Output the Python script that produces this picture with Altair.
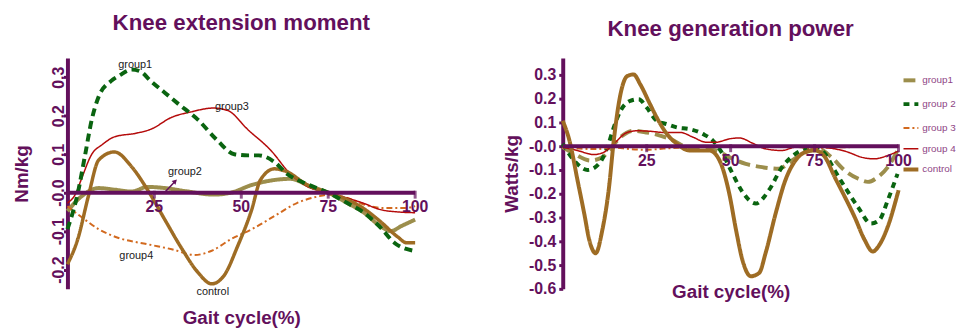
import altair as alt
import pandas as pd

PURPLE = "#63105c"
LEGEND_TXT = "#8e4585"
FONT = "Liberation Sans"

OLIVE = "#9c8e4c"
GREEN = "#0a6410"
ORANGE = "#d2691e"
RED = "#b40a0a"
BROWN = "#9e6c24"

# ---------------- Left panel: Knee extension moment ----------------
L_g1_x = [0, 3, 5, 7, 9, 12.5, 15, 18.5, 21, 24, 28, 32, 37.5, 43, 48, 52, 55, 59.5, 63, 69, 75, 80.5, 85, 90, 94, 100]
L_g1_y = [-0.095, 0.0, 0.094, 0.19, 0.25, 0.29, 0.305, 0.32, 0.315, 0.29, 0.26, 0.23, 0.19, 0.137, 0.10, 0.097, 0.097, 0.08, 0.05, 0.022, 0.0, -0.027, -0.05, -0.09, -0.13, -0.152]

L_g2_x = [0, 4, 9, 13.5, 18.5, 23, 28, 34, 42, 47, 53, 59.5, 64, 70, 75, 80.5, 85, 90, 93, 96, 100]
L_g2_y = [-0.048, -0.01, 0.012, 0.008, 0.003, 0.015, 0.012, 0.004, -0.005, 0.0, 0.02, 0.033, 0.036, 0.016, 0.0, -0.027, -0.05, -0.087, -0.1, -0.087, -0.07]

L_g3_x = [0, 2.5, 4, 7, 10, 13.5, 20, 24, 30, 35.5, 42, 46, 52, 58.5, 64, 69, 75, 80.5, 85, 90, 95, 100]
L_g3_y = [-0.027, 0.0, 0.035, 0.1, 0.125, 0.145, 0.155, 0.165, 0.196, 0.21, 0.22, 0.214, 0.163, 0.11, 0.05, 0.016, 0.0, -0.014, -0.027, -0.044, -0.05, -0.052]

L_g4_x = [0, 5, 9, 14.5, 23, 30, 36.5, 41.5, 47, 53, 59.5, 66, 72, 75.5, 80.5, 85, 91, 97, 100]
L_g4_y = [-0.035, -0.07, -0.095, -0.117, -0.134, -0.147, -0.162, -0.151, -0.121, -0.095, -0.061, -0.027, -0.01, -0.005, -0.014, -0.03, -0.04, -0.04, -0.035]

L_ctl_x = [0, 3, 6, 9, 13.5, 18.5, 23, 28, 33, 37.5, 41.5, 45, 49, 53, 55.5, 59.5, 63, 69, 75, 80.5, 85, 90, 95, 97.5, 100]
L_ctl_y = [-0.186, -0.12, -0.01, 0.085, 0.106, 0.067, 0.008, -0.07, -0.147, -0.207, -0.237, -0.216, -0.138, -0.044, 0.033, 0.062, 0.055, 0.02, 0.0, -0.018, -0.04, -0.075, -0.115, -0.13, -0.13]

L_names = ["group2", "group4", "group3", "control", "group1"]
L_colors = [OLIVE, ORANGE, RED, BROWN, GREEN]
L_dash = [[1, 0], [6, 3, 2, 3], [1, 0], [1, 0], [8, 5]]
L_width = [4, 2, 1.5, 3.5, 4]
L_data = {"group1": (L_g1_x, L_g1_y), "group2": (L_g2_x, L_g2_y), "group3": (L_g3_x, L_g3_y),
          "group4": (L_g4_x, L_g4_y), "control": (L_ctl_x, L_ctl_y)}

L_lab_text = ["group1", "group3", "group2", "group4", "control"]
L_lab_x = [19.5, 47.3, 33.8, 19.8, 41.8]
L_lab_y = [0.333, 0.222, 0.054, -0.165, -0.259]
L_arrow = {"x": [28.2], "y": [0.003], "x2": [31.0], "y2": [0.03]}

# ---------------- Right panel: Knee generation power ----------------
R_g1_x = [0, 3.4, 8.3, 11.8, 14.2, 17.2, 21.1, 25, 29, 33, 36.8, 41.7, 45.7, 49.6, 54.5, 59.4, 64.3, 68.3, 72.2, 76.1, 80, 84, 87.9, 90.9, 93.8, 96.8, 99.7]
R_g1_y = [-0.004, -0.032, -0.06, -0.046, -0.011, 0.038, 0.065, 0.058, 0.045, 0.024, -0.004, -0.011, -0.018, -0.046, -0.074, -0.088, -0.095, -0.06, -0.025, -0.011, -0.046, -0.102, -0.136, -0.15, -0.13, -0.088, -0.018]

R_g2_x = [0, 3.4, 7.4, 10.8, 13.3, 15.2, 17.2, 20.1, 22.6, 25, 28, 31, 34, 37.8, 41.7, 44.7, 47.6, 50.6, 53.5, 57.5, 61.4, 65.3, 69.3, 72.2, 75.1, 78.1, 81, 84, 87.9, 91.8, 94.3, 96.8, 99.7]
R_g2_y = [0.01, -0.06, -0.1, -0.074, -0.004, 0.079, 0.149, 0.191, 0.198, 0.163, 0.107, 0.093, 0.079, 0.072, 0.052, 0.024, -0.032, -0.116, -0.192, -0.241, -0.185, -0.088, -0.032, -0.011, -0.004, -0.032, -0.102, -0.171, -0.255, -0.325, -0.31, -0.227, -0.116]

R_g3_x = [0, 5, 10, 15, 20, 25, 30, 40, 50, 60, 70, 75, 80, 90, 100]
R_g3_y = [-0.005, -0.01, -0.012, -0.005, -0.012, -0.015, -0.01, -0.003, 0.0, 0.0, -0.003, -0.008, -0.005, -0.003, 0.0]

R_g4_x = [0, 4.4, 9.3, 12.3, 15.2, 19.2, 22.1, 26, 30, 35, 38.8, 42.7, 45.7, 49.6, 52.6, 56.5, 60.4, 65.3, 69.3, 73.2, 77, 81, 85, 88.9, 92.8, 96.8, 100]
R_g4_y = [-0.004, -0.018, -0.035, -0.025, 0.01, 0.058, 0.065, 0.063, 0.058, 0.058, 0.038, 0.017, 0.017, 0.031, 0.035, 0.013, -0.011, -0.018, -0.004, -0.004, -0.004, -0.011, -0.025, -0.046, -0.053, -0.039, -0.02]

R_ctl_x = [0, 2, 4.4, 6.4, 7.9, 9.8, 11.8, 13.8, 15.2, 17.2, 19.2, 21.1, 23.1, 26, 28, 31, 34, 37.8, 43.7, 46.7, 49.6, 51.6, 53.5, 56, 58.5, 60.4, 63.4, 66.3, 69.3, 72.2, 75.1, 78.1, 81, 84, 86.9, 89.9, 92.3, 94.3, 96.8, 100]
R_ctl_y = [0.107, 0.024, -0.143, -0.283, -0.394, -0.45, -0.352, -0.171, 0.024, 0.219, 0.295, 0.302, 0.26, 0.177, 0.121, 0.052, 0.01, -0.018, -0.018, -0.06, -0.2, -0.352, -0.478, -0.547, -0.533, -0.45, -0.283, -0.143, -0.06, -0.025, -0.018, -0.046, -0.13, -0.213, -0.297, -0.394, -0.443, -0.415, -0.338, -0.185]

R_names = ["group1", "group 2", "group 3", "group 4", "control"]
R_colors = [OLIVE, GREEN, ORANGE, RED, BROWN]
R_dash = [[12, 6], [6, 5], [6, 3, 2, 3], [1, 0], [1, 0]]
R_width = [4, 4, 2, 1.5, 4]
R_data = {"group1": (R_g1_x, R_g1_y), "group 2": (R_g2_x, R_g2_y), "group 3": (R_g3_x, R_g3_y),
          "group 4": (R_g4_x, R_g4_y), "control": (R_ctl_x, R_ctl_y)}

TICKS = [25, 50, 75, 100]
L_YTICKS = [-0.2, -0.1, 0.0, 0.1, 0.2, 0.3]
R_YTICKS = [-0.6, -0.5, -0.4, -0.3, -0.2, -0.1, 0.0, 0.1, 0.2, 0.3]


def long_df(d, order, widths):
    rows = []
    for i, name in enumerate(order):
        xs, ys = d[name]
        for j, (a, b) in enumerate(zip(xs, ys)):
            rows.append({"x": a, "y": b, "series": name, "w": widths[i], "o": i * 1000 + j})
    return pd.DataFrame(rows)


LABEL_EXPR = "(datum.value <= 0 ? '-' : '') + format(abs(datum.value), '.1f')"


def panel(data, names, colors, dashes, widths, ydomain, yticks, ytitle, left_style, legend,
          xtitle_pad, interp):
    xscale = alt.Scale(domain=[0, 100], nice=False, zero=False)
    yscale = alt.Scale(domain=ydomain, nice=False, zero=False)
    xaxis = alt.Axis(title="Gait cycle(%)", labels=False, ticks=False, domain=False, grid=False,
                     titleFont=FONT, titleFontSize=19, titleFontWeight="bold", titleColor=PURPLE,
                     titlePadding=xtitle_pad)
    yaxis_kw = dict(title=ytitle, values=yticks, tickCount=len(yticks), labelExpr=LABEL_EXPR, grid=False,
                    labelOverlap=False, labelFont=FONT, labelFontSize=16, labelFontWeight="bold",
                    labelColor=PURPLE, domainColor=PURPLE, domainWidth=4, tickColor=PURPLE, tickWidth=3,
                    tickSize=4, titleFont=FONT, titleFontSize=19, titleFontWeight="bold", titleColor=PURPLE)
    if left_style:
        yaxis_kw.update(labelAngle=270, labelAlign="center", labelBaseline="alphabetic", labelPadding=0,
                        titlePadding=19)
    else:
        yaxis_kw.update(labelPadding=3, titlePadding=7)
    yaxis = alt.Axis(**yaxis_kw)
    X = alt.X("x:Q", scale=xscale, axis=xaxis)
    Y = alt.Y("y:Q", scale=yscale, axis=yaxis)

    df = long_df(data, names, widths)
    lines = alt.Chart(df).mark_line(interpolate=interp).encode(
        x=X, y=Y,
        color=alt.Color("series:N", scale=alt.Scale(domain=names, range=colors), legend=legend),
        strokeDash=alt.StrokeDash("series:N", scale=alt.Scale(domain=names, range=dashes), legend=legend),
        strokeWidth=alt.StrokeWidth("w:Q", scale=None, legend=None),
        order="o:Q",
    )

    axis_df = pd.DataFrame({"x": [0], "x2": [100], "y": [0]})
    xline = alt.Chart(axis_df).mark_rule(color=PURPLE, strokeWidth=4).encode(x=X, x2="x2:Q", y=Y)
    tick_df = pd.DataFrame({"x": TICKS, "y": [0] * len(TICKS), "label": [str(t) for t in TICKS]})
    ticks = alt.Chart(tick_df).mark_tick(orient="vertical", color=PURPLE, size=8, thickness=3,
                                         yOffset=2).encode(x=X, y=Y)
    tlabels = alt.Chart(tick_df).mark_text(dy=15, font=FONT, fontSize=16, fontWeight="bold",
                                           color=PURPLE, baseline="middle", align="center").encode(
        x=X, y=Y, text="label:N")
    return [lines, xline, ticks, tlabels], X, Y


L_layers, LX, LY = panel(L_data, L_names, L_colors, L_dash, L_width, [-0.25, 0.35], L_YTICKS, "Nm/kg",
                         True, None, 20, "monotone")

lab_df = pd.DataFrame({"x": L_lab_x, "y": L_lab_y, "t": L_lab_text})
L_labels = alt.Chart(lab_df).mark_text(font=FONT, fontSize=11, color="#1a1a1a", baseline="middle").encode(
    x=LX, y=LY, text="t:N")
arrow_df = pd.DataFrame(L_arrow)
L_arrow_line = alt.Chart(arrow_df).mark_rule(color=PURPLE, strokeWidth=1.5).encode(
    x=LX, y=LY, x2="x2:Q", y2="y2:Q")
L_arrow_head = alt.Chart(arrow_df).mark_point(shape="triangle-up", filled=True, color=PURPLE, size=30,
                                              angle=45, opacity=1).encode(
    x=alt.X("x2:Q", scale=alt.Scale(domain=[0, 100], nice=False, zero=False)),
    y=alt.Y("y2:Q", scale=alt.Scale(domain=[-0.25, 0.35], nice=False, zero=False)))

left = alt.layer(*L_layers, L_labels, L_arrow_line, L_arrow_head).properties(
    width=351, height=233,
    title=alt.TitleParams("Knee extension moment", font=FONT, fontSize=22.5, fontWeight="bold",
                          color=PURPLE, frame="group", anchor="middle", offset=24))

# per-entry legend stroke width, built from R_names / R_width (default = first width)
width_expr = str(R_width[0])
for n, w in zip(R_names[::-1], R_width[::-1]):
    if w != R_width[0]:
        width_expr = "(datum.value == '" + n + "' ? " + str(w) + " : " + width_expr + ")"

R_legend = alt.Legend(title=None, orient="none", legendX=342, legendY=13, symbolType="stroke",
                      symbolSize=225, symbolStrokeWidth=alt.ExprRef(width_expr),
                      labelFont=FONT, labelFontSize=10, labelColor=LEGEND_TXT,
                      rowPadding=6, padding=0, labelOffset=2, labelLimit=60)
R_layers, _, _ = panel(R_data, R_names, R_colors, R_dash, R_width, [-0.6, 0.371], R_YTICKS, "Watts/kg",
                       False, R_legend, -6, "monotone")
right = alt.layer(*R_layers).properties(
    width=339, height=233,
    title=alt.TitleParams("Knee generation power", font=FONT, fontSize=22.5, fontWeight="bold",
                          color=PURPLE, frame="group", anchor="middle", offset=18))

chart = alt.hconcat(left, right, spacing=149, bounds="flush").resolve_scale(
    color="independent", strokeDash="independent", strokeWidth="independent",
    x="independent", y="independent"
).resolve_legend(color="independent", strokeDash="independent").properties(
    padding={"left": 5, "top": 2, "right": 0, "bottom": 0}
).configure_view(stroke=None)

chart.save("out.html", embed_options={"renderer": "svg", "actions": False})
